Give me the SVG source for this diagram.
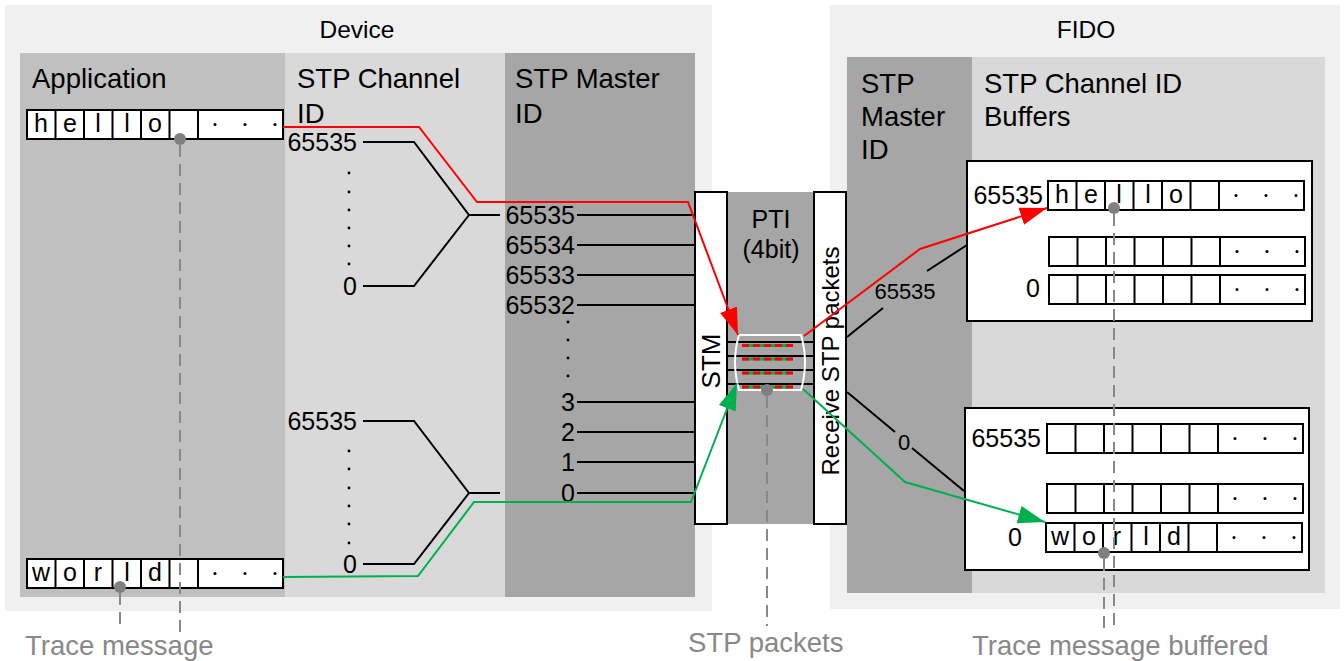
<svg xmlns="http://www.w3.org/2000/svg" width="1344" height="661" viewBox="0 0 1344 661">
<style>
text{font-family:"Liberation Sans",Arial,Helvetica,sans-serif;fill:#000}
.hd{font-size:27.5px}
.ti{font-size:24.5px;text-anchor:middle}
.nr{font-size:25px;text-anchor:end}
.ch{font-size:25px;text-anchor:middle}
.sm{font-size:22px;text-anchor:middle}
.gt{font-size:27.5px;fill:#888}
.ln{stroke:#000;stroke-width:2;fill:none}
.red{stroke:#ff0000;stroke-width:2;fill:none}
.grn{stroke:#00b050;stroke-width:2;fill:none}
.dash{stroke:#888;stroke-width:2;stroke-dasharray:12 7;fill:none}
.gdot{fill:#808080}
.box{fill:#fff;stroke:#000;stroke-width:2}
.dk{fill:#a6a6a6}
.lt{fill:#d9d9d9}
.bg{fill:#f0f0f0}
</style>
<defs>
<marker id="aR" markerUnits="userSpaceOnUse" markerWidth="30" markerHeight="22" refX="27" refY="10" orient="auto"><path d="M0,1 L27,10 L0,19 Z" fill="#ff0000"/></marker>
<marker id="aG" markerUnits="userSpaceOnUse" markerWidth="30" markerHeight="22" refX="27" refY="10" orient="auto"><path d="M0,1 L27,10 L0,19 Z" fill="#00b050"/></marker>
<g id="buf">
<rect x="0" y="0" width="256" height="29" fill="#fff" stroke="#000" stroke-width="2"/>
<path d="M28.5 0V29M57 0V29M85.5 0V29M114 0V29M142.5 0V29M171 0V29" stroke="#000" stroke-width="2"/>
<circle cx="188" cy="14.5" r="1.5"/><circle cx="218" cy="14.5" r="1.5"/><circle cx="248" cy="14.5" r="1.5"/>
</g>
</defs>

<g id="device">
<rect class="bg" x="5" y="5" width="707" height="606"/>
<text class="ti" x="357" y="38">Device</text>
</g>
<g id="application">
<rect x="20" y="53" width="265" height="544" fill="#c0c0c0"/>
<text class="hd" x="32" y="88">Application</text>
</g>
<g id="stp-channel-id">
<rect class="lt" x="285" y="53" width="220" height="544"/>
<text class="hd" x="297" y="88">STP Channel</text>
<text class="hd" x="297" y="123">ID</text>
<text class="nr" x="357" y="151">65535</text>
<text class="nr" x="357" y="295">0</text>
<text class="nr" x="357" y="430">65535</text>
<text class="nr" x="357" y="573">0</text>
<g fill="#000">
<circle cx="349" cy="173" r="1.4"/><circle cx="349" cy="192" r="1.4"/><circle cx="349" cy="210" r="1.4"/><circle cx="349" cy="228" r="1.4"/><circle cx="349" cy="246" r="1.4"/><circle cx="349" cy="264" r="1.4"/>
<circle cx="349" cy="451" r="1.4"/><circle cx="349" cy="469" r="1.4"/><circle cx="349" cy="488" r="1.4"/><circle cx="349" cy="506" r="1.4"/><circle cx="349" cy="524" r="1.4"/><circle cx="349" cy="543" r="1.4"/>
</g>
</g>
<g id="stp-master-id">
<rect class="dk" x="505" y="53" width="190" height="544"/>
<text class="hd" x="515" y="88">STP Master</text>
<text class="hd" x="515" y="123">ID</text>
<text class="nr" x="575" y="224">65535</text>
<text class="nr" x="575" y="254">65534</text>
<text class="nr" x="575" y="284">65533</text>
<text class="nr" x="575" y="314">65532</text>
<text class="nr" x="575" y="411">3</text>
<text class="nr" x="575" y="441">2</text>
<text class="nr" x="575" y="471">1</text>
<text class="nr" x="575" y="502">0</text>
<g fill="#000"><circle cx="568" cy="322" r="1.4"/><circle cx="568" cy="340" r="1.4"/><circle cx="568" cy="358" r="1.4"/><circle cx="568" cy="376" r="1.4"/></g>
</g>

<g id="fido">
<rect class="bg" x="830" y="5" width="510" height="604"/>
<text class="ti" x="1086" y="38">FIDO</text>
</g>
<g id="fido-master-id">
<rect class="dk" x="847" y="57" width="125" height="536"/>
<text class="hd" x="861" y="93">STP</text>
<text class="hd" x="861" y="126">Master</text>
<text class="hd" x="861" y="159">ID</text>
</g>
<g id="fido-buffers">
<rect class="lt" x="972" y="57" width="353" height="536"/>
<text class="hd" x="984" y="93">STP Channel ID</text>
<text class="hd" x="984" y="126">Buffers</text>
</g>
<g id="buffer-top">
<rect class="box" x="967" y="161" width="345" height="160"/>
<text class="nr" x="1043" y="204">65535</text>
<text class="nr" x="1040" y="297">0</text>
<use href="#buf" x="1048" y="181"/>
<use href="#buf" x="1049" y="237"/>
<use href="#buf" x="1049" y="275"/>
<g class="ch"><text class="ch" x="1062" y="203">h</text><text class="ch" x="1091" y="203">e</text><text class="ch" x="1119" y="203">l</text><text class="ch" x="1148" y="203">l</text><text class="ch" x="1176" y="203">o</text></g>
</g>
<g id="buffer-bottom">
<rect class="box" x="965" y="408" width="344" height="162"/>
<text class="nr" x="1041" y="447">65535</text>
<text class="nr" x="1022" y="546">0</text>
<use href="#buf" x="1047" y="424"/>
<use href="#buf" x="1047" y="484"/>
<use href="#buf" x="1046" y="523"/>
<text class="ch" x="1060" y="545">w</text><text class="ch" x="1089" y="545">o</text><text class="ch" x="1117" y="545">r</text><text class="ch" x="1146" y="545">l</text><text class="ch" x="1174" y="545">d</text>
</g>

<g id="pti">
<rect class="dk" x="727" y="192" width="88" height="332"/>
<text class="ch" x="771" y="228">PTI</text>
<text class="ch" x="771" y="258">(4bit)</text>
</g>
<g id="stm">
<rect class="box" x="695" y="192" width="32" height="332"/>
<text class="ch" style="font-size:26px" transform="translate(720,361) rotate(-90)">STM</text>
</g>
<g id="receive">
<rect class="box" x="814" y="192" width="32" height="332"/>
<text class="ch" style="font-size:24px" transform="translate(839,361) rotate(-90)">Receive STP packets</text>
</g>

<g id="app-hello">
<use href="#buf" x="27" y="110"/>
<text class="ch" x="41" y="132">h</text><text class="ch" x="70" y="132">e</text><text class="ch" x="98" y="132">l</text><text class="ch" x="127" y="132">l</text><text class="ch" x="155" y="132">o</text>
</g>
<g id="app-world">
<use href="#buf" x="27" y="559"/>
<text class="ch" x="41" y="581">w</text><text class="ch" x="70" y="581">o</text><text class="ch" x="98" y="581">r</text><text class="ch" x="127" y="581">l</text><text class="ch" x="155" y="581">d</text>
</g>

<g id="connectors">
<path class="ln" d="M363 142H414L469 215H500M363 286H414L469 215"/>
<path class="ln" d="M363 421H414L469 493H500M363 564H414L469 493"/>
<path class="ln" d="M577 215H695M577 245H695M577 275H695M577 305H695M577 402H695M577 432H695M577 462H695M577 493H695"/>
<path class="ln" d="M727 342H814M727 356H814M727 370H814M727 384H814"/>
<g stroke-width="3" fill="none">
<path stroke="#00b050" d="M742 345.5H793M742 359H793M742 373H793M742 387H793"/>
<path stroke="#ff0000" stroke-dasharray="7 4" d="M742 345.5H793M742 359H793M742 373H793M742 387H793"/>
</g>
<path d="M739 335H801Q809 362 801 390H739Q731 362 739 335Z" fill="none" stroke="#fff" stroke-width="2"/>
<path class="ln" d="M847 337L883 308M927 271L967 245"/>
<text class="sm" x="905" y="299">65535</text>
<path class="ln" d="M847 392L895 432M912 448L964 491"/>
<text class="sm" x="904" y="450">0</text>
<path class="red" d="M283 127H419L477 202H688L738 335" marker-end="url(#aR)"/>
<path class="red" d="M804 336L920 249L1047 208" marker-end="url(#aR)"/>
<path class="grn" d="M283 577L418 576L474 502H691L737 383" marker-end="url(#aG)"/>
<path class="grn" d="M803 389L905 482L1045 522" marker-end="url(#aG)"/>
<path class="dash" d="M180 145V632M120 593V626M767 396V626M1114 214V632M1104 559V632"/>
<circle class="gdot" cx="180" cy="139" r="6"/>
<circle class="gdot" cx="120" cy="587" r="6"/>
<circle class="gdot" cx="767" cy="390" r="6"/>
<circle class="gdot" cx="1114" cy="208" r="6"/>
<circle class="gdot" cx="1104" cy="553" r="6"/>
</g>

<g id="labels">
<text class="gt" x="25" y="655">Trace message</text>
<text class="gt" x="688" y="652">STP packets</text>
<text class="gt" x="972" y="655">Trace message buffered</text>
</g>
</svg>
